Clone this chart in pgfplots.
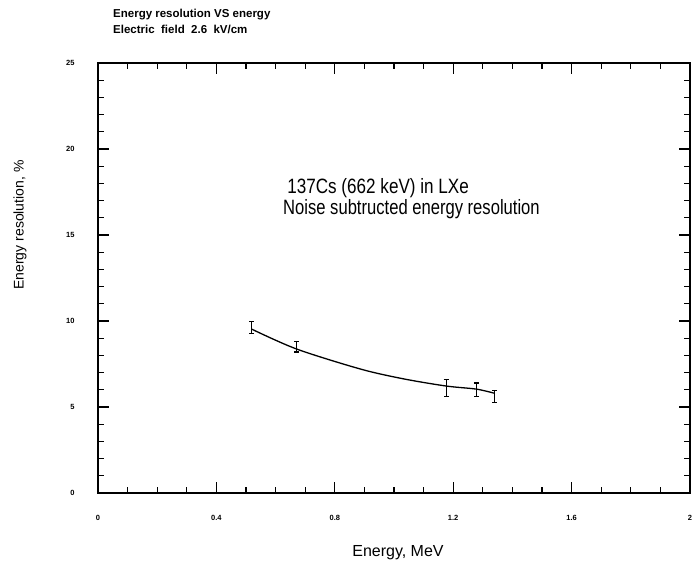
\documentclass[border=0pt]{standalone}
\usepackage{pgfplots}
\pgfplotsset{compat=1.18}
\usepackage{fontspec}
\setmainfont{Liberation Sans}

\begin{document}
\begin{tikzpicture}[x=1pt,y=1pt]
\begin{axis}[
    at={(98pt,76pt)}, anchor=south west,
    scale only axis,
    width=592pt, height=430pt,
    xmin=0, xmax=2, ymin=0, ymax=25,
    axis line style={line width=1.6pt},
    xtick={0,0.4,0.8,1.2,1.6,2},
    xticklabels={0,0.4,0.8,1.2,1.6,2},
    minor x tick num=3,
    ytick={0,5,10,15,20,25},
    minor y tick num=4,
    tick align=inside,
    major tick length=11pt, minor tick length=6pt,
    every tick/.style={line width=1.2pt, black},
    /pgf/number format/assume math mode=true,
    tick label style={font=\bfseries\fontsize{7.5}{8}\selectfont},
    xticklabel shift=19pt,
    yticklabel shift=20pt,
    clip=false,
]
% fitted curve
\addplot[black, line width=1.3pt, smooth] coordinates {
  (0.519,9.53) (0.671,8.37) (0.888,7.20) (1.034,6.63)
  (1.176,6.22) (1.278,6.04) (1.339,5.80)};
% measured points with error bars
\addplot[draw=none, mark=none,
  error bars/.cd, y dir=both, y explicit,
  error bar style={line width=1.2pt, black},
  error mark options={rotate=90, mark size=2.5pt, line width=1.2pt, black}]
  coordinates {
  (0.519,9.60) +- (0,0.35)
  (0.671,8.50) +- (0,0.30)
  (1.176,6.10) +- (0,0.50)
  (1.278,6.00) +- (0,0.40)
  (1.339,5.60) +- (0,0.35)};
\node[anchor=base west, align=left, inner sep=0pt]
  at (axis cs:0.639,17.44)
  {\scalebox{1.03}[1.25]{\fontsize{16.6}{17}\selectfont 137Cs (662 keV) in LXe}};
\node[anchor=base west, align=left, inner sep=0pt]
  at (axis cs:0.625,16.17)
  {\scalebox{1}[1.25]{\fontsize{16.6}{17}\selectfont Noise subtructed energy resolution}};
\end{axis}
\node[anchor=base west, inner sep=0pt, font=\bfseries\fontsize{11.5}{12}\selectfont]
  at (113,551) {Energy resolution VS energy};
\node[anchor=base west, inner sep=0pt, font=\bfseries\fontsize{11.5}{12}\selectfont]
  at (113,535) {Electric \ field \ 2.6 \ kV/cm};
\node[rotate=90, inner sep=0pt, font=\fontsize{14}{16}\selectfont]
  at (20,344) {Energy resolution, \%};
\node[anchor=base, inner sep=0pt, font=\fontsize{16}{18}\selectfont]
  at (398,12) {Energy, MeV};
\pgfresetboundingbox
\useasboundingbox (0,0) rectangle (692,569);
\end{tikzpicture}
\end{document}
